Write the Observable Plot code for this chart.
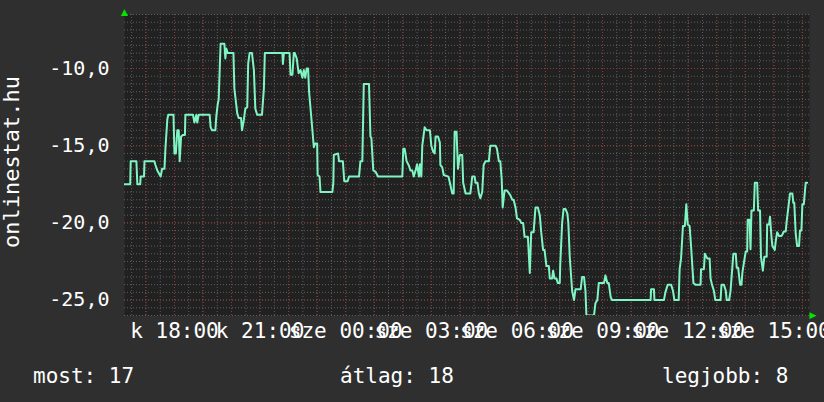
<!DOCTYPE html>
<html><head><meta charset="utf-8">
<script src="https://cdn.jsdelivr.net/npm/d3@7"></script>
<script src="https://cdn.jsdelivr.net/npm/@observablehq/plot@0.6"></script>
<style>
html,body{margin:0;padding:0;background:#2f2f2f;}
#chart{width:824px;height:402px;position:relative;overflow:hidden;background:#2f2f2f;}
#chart svg{display:block;}
</style></head><body><div id="chart"></div>
<script>
// [minutes after Tue 16:15, value]
const evening = [[0,-17.5],[12,-17.5],[13,-16],[25,-16],[27,-17.5],[33,-17.5],[34,-17],[41,-17],[42,-16],[63,-16],[65,-16.25],[69,-16.6],[76,-17],[79,-16.5],[84,-16.5],[86,-15.2],[90,-13.3],[92,-13],[103,-13],[105,-15.5],[108,-15.5],[111,-14],[114,-14],[116,-16],[119,-14.4],[123,-14.3],[127,-14.3],[128,-13],[144,-13],[147,-13.5],[151,-13],[153,-13.5],[156,-13],[179,-13],[181,-13.8],[184,-14],[191,-14],[193,-13.1],[196,-12.3],[198,-12],[202,-8.4],[210,-8.4],[212,-9.35],[214,-8.7],[217,-9]];
const night1 = [[229,-9],[231,-11.3],[237,-12.9],[240,-13.2],[245,-13.2],[247,-14],[251,-13.3],[254,-12.6],[258,-12.5],[260,-9.7],[263,-9],[268,-9],[272,-10.1],[275,-12.6],[279,-13],[289,-13],[293,-11.3],[295,-9],[332,-9],[333,-9.7],[335,-9],[347,-9],[349,-10.4],[353,-10.4],[356,-9],[358,-9],[362,-9.35],[366,-10.3],[370,-10.1],[374,-10.6],[377,-10.1],[380,-10.6],[383,-10],[386,-10],[388,-11.5],[395,-14],[398,-15.1],[401,-14.85],[405,-14.85],[406,-16.9],[410,-17],[412,-18],[437,-18],[439,-17.4],[440,-15.6],[449,-15.5],[451,-16],[459,-16],[462,-17.3],[469,-17.3],[472,-17],[493,-17],[496,-16],[500,-16]];
const night2 = [[503,-11],[514,-11],[517,-14.4],[519,-14.5],[523,-16.6],[528,-16.7],[533,-17],[584,-17],[586,-15.2],[589,-15.2],[593,-16],[598,-16.3],[601,-16.6],[605,-16.6],[608,-17],[612,-16.6],[615,-16.2],[619,-17],[621,-16.2],[624,-17],[626,-15],[631,-13.8],[635,-14],[642,-14],[645,-15],[649,-15.4],[652,-15.5],[654,-14.4],[659,-14.4],[663,-14.8],[664,-16.25],[668,-16.4],[671,-16.9],[681,-17],[684,-17.4],[689,-18.1],[692,-18.1],[694,-14.1],[698,-14.1],[701,-16.5],[705,-15.6],[710,-15.6],[712,-17.4],[717,-18.1],[727,-18.1],[731,-17],[736,-17],[738,-17.4],[742,-17.4],[745,-18.1],[748,-18.4],[752,-18],[755,-16.25],[759,-16],[766,-16],[769,-15],[780,-15],[783,-15.2],[787,-16],[790,-16]];
const morning = [[793,-17.2],[795,-19],[799,-17.9],[804,-17.9],[811,-18.2],[815,-18.5],[818,-18.5],[822,-19],[825,-19.7],[831,-19.8],[834,-20],[838,-20],[841,-20.9],[848,-20.9],[852,-23.25],[855,-20.6],[860,-20.6],[864,-19],[869,-19],[873,-19.5],[876,-20.6],[880,-21.75],[883,-21.75],[887,-22.8],[892,-22.8],[894,-23.6],[899,-23.6],[901,-23.1],[904,-23.6],[908,-23.6],[911,-23.9],[915,-23.9],[916,-22.7],[920,-20],[923,-19.1],[927,-19.1],[931,-19.4],[933,-20],[936,-22.2],[941,-24.4],[945,-25],[948,-24.3],[959,-24.3],[962,-23.5],[966,-23.5],[969,-24.4],[971,-26],[987,-26],[990,-25.2],[994,-25],[997,-23.9],[1008,-23.9],[1011,-23.4],[1015,-23.9],[1018,-23.9],[1022,-24.8],[1025,-25],[1106,-25]];
const afternoon = [[1107,-24.3],[1113,-24.3],[1114,-25],[1134,-25],[1137,-24.5],[1142,-24],[1149,-24],[1153,-24.4],[1156,-25],[1165,-25],[1167,-23],[1170,-22.3],[1174,-20.2],[1178,-20.2],[1181,-18.8],[1184,-20.1],[1188,-20.2],[1191,-21.5],[1196,-23.9],[1200,-24],[1211,-24],[1212,-23],[1218,-23],[1220,-22],[1225,-22.3],[1230,-22.3],[1232,-23.6],[1235,-24],[1239,-24.4],[1242,-25],[1253,-25],[1255,-24],[1260,-24],[1264,-24.4],[1266,-25],[1271,-25],[1274,-24.4],[1276,-23.6],[1280,-22],[1285,-22],[1287,-22.9],[1290,-22.9],[1294,-24],[1297,-24],[1299,-23.2],[1302,-22.6],[1306,-21.85],[1309,-21.85],[1310,-19.8],[1314,-19.8],[1316,-21.7],[1318,-19.2],[1323,-19.2],[1325,-17.4],[1330,-17.4],[1332,-19.2],[1336,-19.2],[1338,-22.2],[1342,-23.1],[1345,-22.2],[1350,-22.2],[1351,-20.1],[1355,-20.1],[1357,-19.6],[1360,-20.9],[1362,-21.5],[1367,-21.75],[1369,-21.2],[1372,-20.6],[1376,-20.85],[1381,-20.85],[1383,-20.75],[1386,-20.56],[1390,-20.56],[1392,-19.9],[1394,-19.4],[1399,-18.1],[1404,-18.1],[1406,-18.7],[1408,-18.7],[1411,-20.7],[1414,-21.5],[1418,-21.5],[1420,-20.5],[1423,-20.5],[1425,-18.8],[1428,-18.8],[1430,-18.1],[1432,-17.4],[1435,-17.4]];

const yTicks = [-25, -20, -15, -10];
const dayNames = ["v", "h", "k", "sze", "cs", "p", "szo"];
const yLabel = "onlinestat.hu";
const legendLabels = ["most", "átlag", "legjobb"];
const legendValues = [17, 18, 8];

const start = new Date(2024, 0, 2, 16, 15);
const end = new Date(2024, 0, 3, 16, 15);
const data = [...evening, ...night1, ...night2, ...morning, ...afternoon]
  .map(([m, v]) => ({t: new Date(+start + m * 60000), v}));

const minorX = d3.timeMinute.every(30).range(start, end);
const majorX = d3.timeHour.range(start, end);
const labelX = d3.timeHour.every(3).range(start, end);
const minorY = d3.range(-26, -6.49, 0.5);
const fmtHM = d3.timeFormat("%H:%M");

const font = "DejaVu Sans Mono";
const minorStyle = {stroke: "#5e5e5e", strokeOpacity: 1, strokeDasharray: "1,2"};
const majorStyle = {stroke: "#8e3b3b", strokeOpacity: 1, strokeDasharray: "1,2"};

const plot = Plot.plot({
  width: 824, height: 350,
  marginLeft: 124, marginRight: 15, marginTop: 14, marginBottom: 35,
  style: {background: "transparent", color: "#fff", fontFamily: font, overflow: "visible"},
  x: {type: "time", domain: [start, end]},
  y: {domain: [-26, -6.5]},
  marks: [
    Plot.frame({fill: "#212121", stroke: null}),
    Plot.gridY(minorY, minorStyle),
    Plot.gridX(minorX, minorStyle),
    Plot.gridY(yTicks, majorStyle),
    Plot.gridX(majorX, majorStyle),
    Plot.line(data, {x: "t", y: "v", stroke: "#7ff5c3", strokeWidth: 2, clip: true}),
    Plot.axisY(yTicks, {tickSize: 0, tickPadding: 15, fontSize: 20, fill: "#fff",
      tickFormat: d => d.toFixed(1).replace(".", ","), label: null}),
    Plot.axisX(labelX, {tickSize: 0, tickPadding: 8, fontSize: 21, fill: "#fff",
      tickFormat: d => dayNames[d.getDay()] + " " + fmtHM(d), label: null}),
    Plot.text([yLabel], {frameAnchor: "left", text: d => d, rotate: -90, textAnchor: "middle",
      dx: -113, dy: -3, fontSize: 22, fill: "#fff", fontFamily: font}),
    Plot.text(["▲"], {frameAnchor: "top-left", text: d => d, fill: "#00e600", fontSize: 9,
      textAnchor: "middle", lineAnchor: "bottom", dy: 0, fontFamily: "DejaVu Sans"}),
    Plot.text(["▶"], {frameAnchor: "bottom-right", text: d => d, fill: "#00e600", fontSize: 9,
      textAnchor: "start", lineAnchor: "middle", dx: 0, fontFamily: "DejaVu Sans"})
  ]
});
document.getElementById("chart").appendChild(plot);

const legendX = [33, 340, 662];
const legend = d3.create("svg").attr("width", 824).attr("height", 52);
legend.selectAll("text").data(legendLabels).join("text")
  .attr("x", (d, i) => legendX[i]).attr("y", 33)
  .attr("fill", "#fff").attr("font-family", font).attr("font-size", 21)
  .text((d, i) => d + ": " + legendValues[i]);
document.getElementById("chart").appendChild(legend.node());
</script></body></html>
